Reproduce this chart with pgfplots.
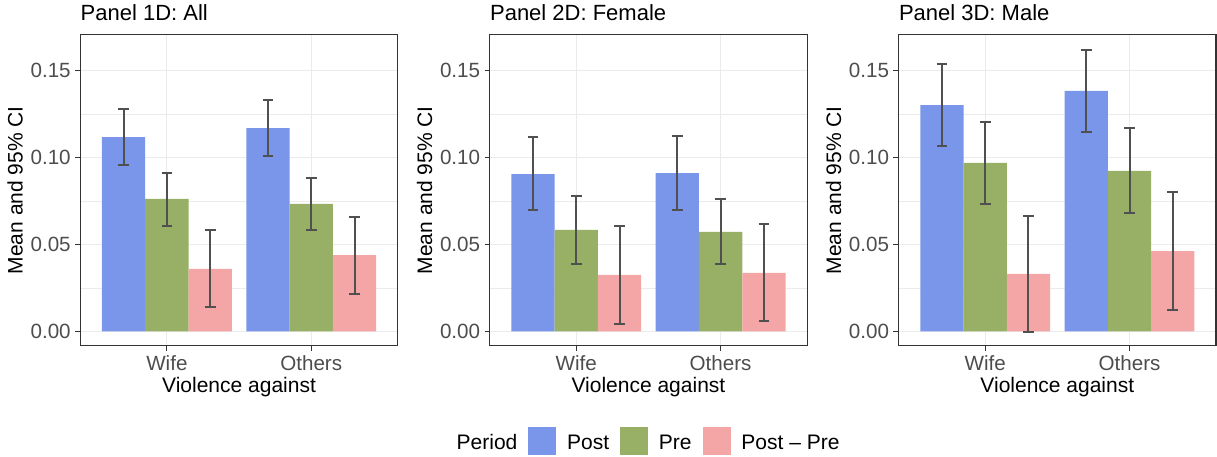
\documentclass[border=0pt]{standalone}
\usepackage{fontspec}
\setmainfont{Liberation Sans}
\usepackage{pgfplots}
\usepackage{pgfplotstable}
\pgfplotsset{compat=1.18}

\definecolor{postc}{HTML}{7A96EA}
\definecolor{prec}{HTML}{97B065}
\definecolor{diffc}{HTML}{F4A6A6}
\definecolor{grey92}{HTML}{EBEBEB}
\definecolor{grey20}{HTML}{333333}
\definecolor{grey30}{HTML}{4D4D4D}
\definecolor{errc}{HTML}{505050}

% columns: category (1 = Wife, 2 = Others), dodged bar position, mean, 95% CI low, high
% Panel 1D: All
\pgfplotstableread{
x pos mean lo hi
1 0.7 0.1118 0.0959 0.1279
2 1.7 0.1170 0.1011 0.1333
}\AllPost
\pgfplotstableread{
x pos mean lo hi
1 1.0 0.0762 0.0606 0.0911
2 2.0 0.0733 0.0583 0.0882
}\AllPre
\pgfplotstableread{
x pos mean lo hi
1 1.3 0.0359 0.0142 0.0583
2 2.3 0.0439 0.0217 0.0660
}\AllDiff
% Panel 2D: Female
\pgfplotstableread{
x pos mean lo hi
1 0.7 0.0905 0.0698 0.1118
2 1.7 0.0911 0.0700 0.1122
}\FemPost
\pgfplotstableread{
x pos mean lo hi
1 1.0 0.0583 0.0389 0.0777
2 2.0 0.0572 0.0389 0.0761
}\FemPre
\pgfplotstableread{
x pos mean lo hi
1 1.3 0.0324 0.0044 0.0608
2 2.3 0.0336 0.0058 0.0618
}\FemDiff
% Panel 3D: Male
\pgfplotstableread{
x pos mean lo hi
1 0.7 0.1302 0.1065 0.1538
2 1.7 0.1383 0.1147 0.1619
}\MalePost
\pgfplotstableread{
x pos mean lo hi
1 1.0 0.0969 0.0735 0.1206
2 2.0 0.0923 0.0679 0.1170
}\MalePre
\pgfplotstableread{
x pos mean lo hi
1 1.3 0.0330 -0.0004 0.0664
2 2.3 0.0462 0.0123 0.0800
}\MaleDiff

\pgfplotsset{
  panel/.style={
    scale only axis, width=158.75pt, height=155.5pt,
    anchor=south west,
    xmin=0.4, xmax=2.6, ymin=-0.0083, ymax=0.1707,
    xtick={1,2}, xticklabels={Wife,Others},
    ytick={0,0.05,0.1,0.15}, yticklabels={0.00,0.05,0.10,0.15},
    minor ytick={0.025,0.075,0.125},
    grid=both,
    major grid style={color=grey92, line width=0.55pt},
    minor grid style={color=grey92, line width=0.3pt},
    axis line style={color=grey20, line width=0.65pt},
    tick style={color=grey20, line width=0.55pt},
    tick align=outside, major tick length=2.6pt, minor tick length=0pt,
    xtick pos=lower, ytick pos=left,
    /pgf/number format/assume math mode=true,
    ticklabel style={font=\fontsize{10.3}{12}\selectfont, text=grey30},
    yticklabel style={inner sep=0pt, anchor=east, xshift=-2pt},
    xticklabel style={inner sep=0pt, anchor=base, yshift=-9.8pt},
    xlabel={Violence against}, ylabel={Mean and 95\% CI},
    label style={font=\fontsize{10.5}{12}\selectfont, inner sep=0pt},
    xlabel style={at={(axis description cs:0.5,0)}, anchor=base, yshift=-23.2pt},
    ylabel style={at={(axis description cs:0,0.5)}, anchor=base, yshift=28.8pt},
    title style={at={(axis description cs:0,1)}, anchor=base west, yshift=1.2pt, inner sep=0pt, font=\fontsize{11}{13}\selectfont},
  },
  barpost/.style={ybar, bar width=0.3, bar shift=0, fill=postc, draw=none, forget plot, errs},
  barpre/.style={ybar, bar width=0.3, bar shift=0, fill=prec, draw=none, forget plot, errs},
  bardiff/.style={ybar, bar width=0.3, bar shift=0, fill=diffc, draw=none, forget plot, errs},
  errs/.style={error bars/.cd, y dir=both, y explicit, error mark=|,
    error bar style={color=errc, line width=1pt, fill=none},
    error mark options={color=errc, line width=1pt, mark size=2.67pt}},
  /pgfplots/table/errtab/.style={x=pos, y=mean, y error plus expr=\thisrow{hi}-\thisrow{mean}, y error minus expr=\thisrow{mean}-\thisrow{lo}},
}

\begin{document}
\begin{tikzpicture}
\path[use as bounding box] (0pt,0pt) rectangle (608.5pt,228pt);

\begin{axis}[panel, at={(40.15pt,55.15pt)}, title={Panel 1D: All},
  legend columns=-1,
  legend style={at={(axis description cs:1.771,-0.306)}, anchor=center, draw=none, fill=none,
    inner sep=0pt, column sep=5.5pt, nodes={inner sep=0pt}, font=\fontsize{10.5}{12}\selectfont},
  ]
  \addplot[barpost] table[errtab] {\AllPost};
  \addplot[barpre] table[errtab] {\AllPre};
  \addplot[bardiff] table[errtab] {\AllDiff};
  \addlegendimage{empty legend}
  \addlegendentry{Period}
  \addlegendimage{legend image code/.code={\fill[postc] (0pt,-5.5pt) rectangle (13.5pt,8pt);}}
  \addlegendentry{Post}
  \addlegendimage{legend image code/.code={\fill[prec] (0pt,-5.5pt) rectangle (13.5pt,8pt);}}
  \addlegendentry{Pre}
  \addlegendimage{legend image code/.code={\fill[diffc] (0pt,-5.5pt) rectangle (13.5pt,8pt);}}
  \addlegendentry{Post -- Pre}
\end{axis}

\begin{axis}[panel, at={(244.85pt,55.15pt)}, title={Panel 2D: Female}]
  \addplot[barpost] table[errtab] {\FemPost};
  \addplot[barpre] table[errtab] {\FemPre};
  \addplot[bardiff] table[errtab] {\FemDiff};
\end{axis}

\begin{axis}[panel, at={(449.3pt,55.15pt)}, title={Panel 3D: Male}]
  \addplot[barpost] table[errtab] {\MalePost};
  \addplot[barpre] table[errtab] {\MalePre};
  \addplot[bardiff] table[errtab] {\MaleDiff};
\end{axis}
\end{tikzpicture}
\end{document}
